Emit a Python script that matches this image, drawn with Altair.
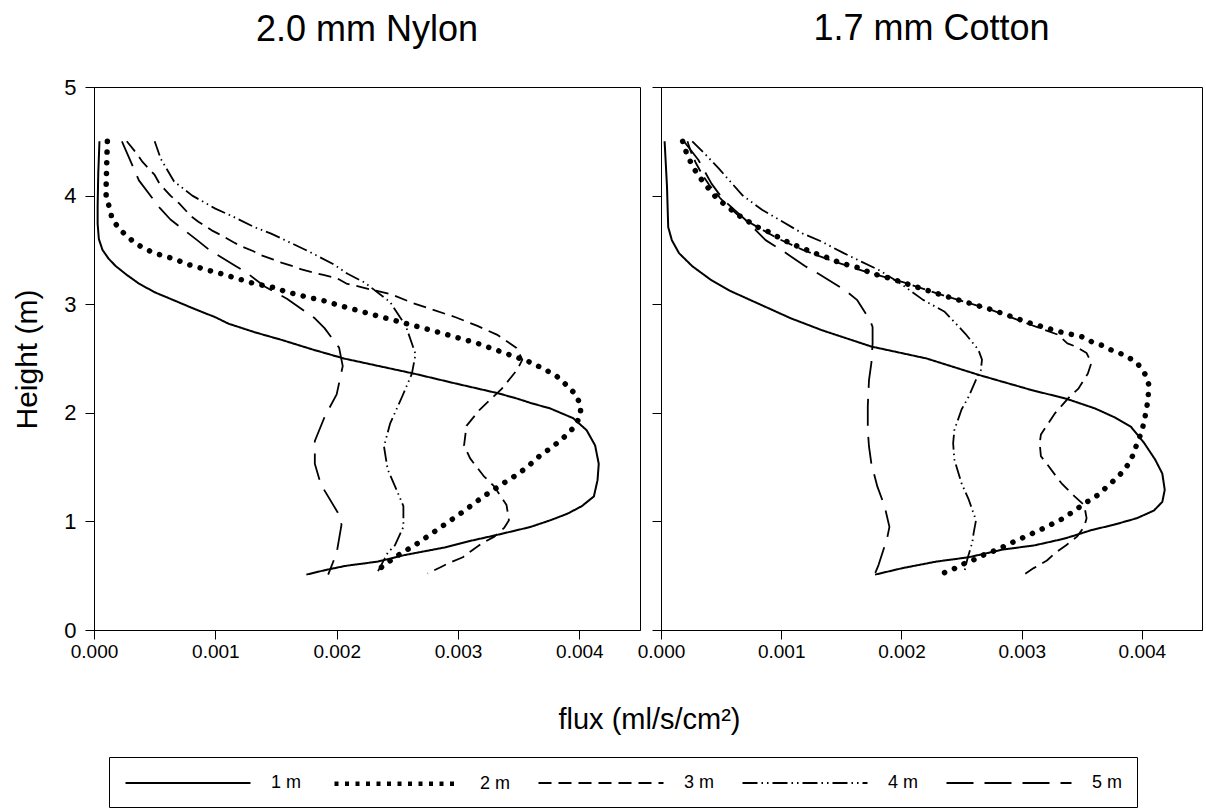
import altair as alt
import pandas as pd

SERIES = ["1 m", "2 m", "3 m", "4 m", "5 m"]
PANELS = ["2.0 mm Nylon", "1.7 mm Cotton"]
X_TICKS = [0.0, 0.001, 0.002, 0.003, 0.004]
Y_TICKS = [0, 1, 2, 3, 4, 5]

# ---------------- 2.0 mm Nylon ----------------
ny_1m_h = [4.50, 4.20, 3.90, 3.74, 3.60, 3.50, 3.42, 3.35, 3.27, 3.19, 3.11, 3.04, 2.96, 2.88, 2.82,
           2.74, 2.67, 2.58, 2.50, 2.43, 2.36, 2.27, 2.18, 2.13, 2.09, 2.04, 1.95, 1.84, 1.70, 1.53,
           1.38, 1.23, 1.14, 1.07, 1.01, 0.95, 0.92, 0.87, 0.82, 0.76, 0.69, 0.63, 0.59, 0.55, 0.51]
ny_1m_f = [0.000045, 0.000035, 0.00003, 0.00003, 0.00004, 0.00007, 0.00012, 0.00018, 0.00027, 0.00037,
           0.0005, 0.00065, 0.00082, 0.001, 0.00111, 0.00133, 0.00155, 0.00181, 0.00206, 0.00235,
           0.00264, 0.00298, 0.00333, 0.00349, 0.0036, 0.00376, 0.00395, 0.00406, 0.00413, 0.00416,
           0.00415, 0.00412, 0.00402, 0.0039, 0.00376, 0.0036, 0.00349, 0.0033, 0.0031, 0.00289,
           0.00256, 0.00234, 0.00207, 0.0019, 0.00175]

ny_2m_h = [4.50, 4.30, 4.09, 3.99, 3.88, 3.78, 3.68, 3.59, 3.52, 3.47, 3.44, 3.41, 3.37, 3.34, 3.31,
           3.28, 3.25, 3.22, 3.19, 3.17, 3.15, 3.11, 3.09, 3.06, 3.04, 3.01, 2.98, 2.87, 2.76, 2.64,
           2.50, 2.46, 2.40, 2.35, 2.27, 2.17, 2.07, 1.97, 1.86, 1.76, 1.68, 1.60, 1.51, 1.44, 1.37,
           1.23, 1.08, 0.94, 0.80, 0.67, 0.52]
ny_2m_f = [0.00011, 0.000105, 0.0001, 0.0001, 0.00013, 0.00015, 0.00022, 0.00031, 0.0004, 0.0005,
           0.00059, 0.00068, 0.00076, 0.00086, 0.00095, 0.00105, 0.00114, 0.00123, 0.00132, 0.00141,
           0.0015, 0.00159, 0.00168, 0.00177, 0.00187, 0.00196, 0.00205, 0.00241, 0.00278, 0.00316,
           0.00351, 0.00361, 0.00371, 0.0038, 0.00388, 0.00397, 0.00401, 0.00401, 0.00395, 0.00386,
           0.00377, 0.00367, 0.00358, 0.0035, 0.0034, 0.00321, 0.00303, 0.00285, 0.00267, 0.00248,
           0.0023]

ny_3m_h = [4.50, 4.39, 4.31, 4.19, 4.11, 4.00, 3.93, 3.81, 3.76, 3.68, 3.64, 3.57, 3.53, 3.49, 3.45,
           3.41, 3.38, 3.35, 3.32, 3.29, 3.27, 3.24, 3.19, 3.09, 3.01, 2.95, 2.88, 2.80, 2.72, 2.60,
           2.49, 2.40, 2.22, 2.03, 1.88, 1.70, 1.58, 1.42, 1.32, 1.15, 1.01, 0.94, 0.86, 0.80, 0.72,
           0.67, 0.62, 0.58, 0.52]
ny_3m_f = [0.00027, 0.00035, 0.0004, 0.0005, 0.00054, 0.00063, 0.0007, 0.0008, 0.00086, 0.00097,
           0.00104, 0.00115, 0.00122, 0.00131, 0.00138, 0.00148, 0.00155, 0.00164, 0.00171, 0.00181,
           0.00189, 0.002, 0.00208, 0.00245, 0.00263, 0.00279, 0.00298, 0.00316, 0.00332, 0.00348,
           0.00353, 0.00349, 0.00336, 0.00318, 0.00307, 0.00305, 0.0031, 0.00321, 0.0033, 0.0034,
           0.00342, 0.00338, 0.0033, 0.0032, 0.0031, 0.00304, 0.00293, 0.00286, 0.00275]

ny_4m_h = [4.50, 4.34, 4.13, 4.00, 3.88, 3.81, 3.71, 3.65, 3.55, 3.48, 3.37, 3.28, 3.20, 3.02, 2.80,
           2.54, 2.36, 2.15, 1.90, 1.69, 1.48, 1.30, 1.14, 0.95, 0.78, 0.71, 0.52]
ny_4m_f = [0.0005, 0.00055, 0.00066, 0.00081, 0.001, 0.00114, 0.00132, 0.00146, 0.00165, 0.00178,
           0.00197, 0.00209, 0.00223, 0.00244, 0.00257, 0.00265, 0.00262, 0.00254, 0.00244, 0.00239,
           0.00242, 0.00249, 0.00255, 0.00255, 0.00248, 0.00242, 0.00233]

ny_5m_h = [4.50, 4.27, 4.14, 3.89, 3.78, 3.59, 3.50, 3.35, 3.28, 3.16, 3.05, 2.87, 2.78, 2.60, 2.43,
           2.17, 1.96, 1.74, 1.53, 1.34, 1.08, 0.97, 0.71, 0.51]
ny_5m_f = [0.00023, 0.00032, 0.00037, 0.00054, 0.00063, 0.00085, 0.00095, 0.00117, 0.00127, 0.00141,
           0.00159, 0.00182, 0.0019, 0.00202, 0.00205, 0.002, 0.0019, 0.00182, 0.00182, 0.00187,
           0.00201, 0.00204, 0.002, 0.00193]

# ---------------- 1.7 mm Cotton ----------------
co_1m_h = [4.50, 4.08, 3.71, 3.59, 3.47, 3.35, 3.22, 3.12, 3.02, 2.87, 2.76, 2.61, 2.50, 2.35, 2.21,
           2.13, 2.04, 1.96, 1.87, 1.72, 1.57, 1.44, 1.29, 1.18, 1.10, 1.03, 0.97, 0.92, 0.87, 0.84,
           0.78, 0.74, 0.67, 0.63, 0.57, 0.51]
co_1m_f = [0.00003, 0.00005, 0.00006, 0.00009, 0.00015, 0.00026, 0.00042, 0.00058, 0.00078, 0.00108,
           0.00134, 0.00175, 0.00221, 0.00264, 0.00308, 0.00337, 0.00361, 0.00377, 0.00391, 0.00402,
           0.00411, 0.00417, 0.00419, 0.00417, 0.0041, 0.00396, 0.00377, 0.00358, 0.00344, 0.00335,
           0.00311, 0.00284, 0.00256, 0.00229, 0.00201, 0.00178]

co_2m_h = [4.50, 4.40, 4.30, 4.20, 4.10, 3.98, 3.90, 3.83, 3.76, 3.70, 3.66, 3.60, 3.55, 3.51, 3.47,
           3.43, 3.39, 3.36, 3.33, 3.29, 3.26, 3.23, 3.20, 3.07, 2.95, 2.83, 2.75, 2.70, 2.65, 2.62,
           2.57, 2.53, 2.46, 2.35, 2.25, 2.13, 2.04, 1.93, 1.83, 1.72, 1.62, 1.53, 1.42, 1.33, 1.24,
           1.17, 1.10, 1.03, 0.98, 0.93, 0.88, 0.83, 0.79, 0.74, 0.70, 0.65, 0.61, 0.56, 0.52]
co_2m_f = [0.00018, 0.00021, 0.00025, 0.0003, 0.00037, 0.00046, 0.00055, 0.00063, 0.00073, 0.00082,
           0.00091, 0.001, 0.0011, 0.00119, 0.00128, 0.00138, 0.00147, 0.00156, 0.00166, 0.00174,
           0.00183, 0.00193, 0.00201, 0.00238, 0.00275, 0.00306, 0.0033, 0.0035, 0.00359, 0.00367,
           0.00376, 0.00386, 0.00396, 0.00403, 0.00406, 0.00405, 0.00404, 0.00402, 0.004, 0.00396,
           0.00393, 0.00389, 0.00381, 0.00372, 0.00363, 0.00353, 0.00344, 0.00335, 0.00326, 0.00317,
           0.00307, 0.00297, 0.00289, 0.0028, 0.0027, 0.00261, 0.00252, 0.00243, 0.00234]

co_3m_h = [4.50, 4.40, 4.30, 4.20, 4.10, 3.98, 3.90, 3.80, 3.70, 3.60, 3.50, 3.40, 3.30, 3.20, 3.07,
           2.95, 2.82, 2.72, 2.64, 2.61, 2.55, 2.46, 2.36, 2.22, 2.15, 2.00, 1.90, 1.80, 1.72, 1.60,
           1.53, 1.38, 1.34, 1.23, 1.15, 1.03, 0.95, 0.86, 0.78, 0.71, 0.64, 0.57, 0.51]
co_3m_f = [0.00022, 0.00025, 0.00029, 0.00034, 0.0004, 0.00049, 0.00056, 0.00066, 0.00082, 0.00098,
           0.00118, 0.00142, 0.0017, 0.00202, 0.00238, 0.00274, 0.00305, 0.0033, 0.00338, 0.00345,
           0.00354, 0.00358, 0.00355, 0.00347, 0.0034, 0.00328, 0.00322, 0.00316, 0.00315, 0.00316,
           0.00321, 0.00331, 0.00334, 0.00344, 0.00352, 0.00354, 0.00352, 0.00346, 0.00337, 0.00328,
           0.00321, 0.0031, 0.00302]

co_4m_h = [4.50, 4.39, 4.25, 4.10, 4.00, 3.87, 3.78, 3.65, 3.58, 3.47, 3.39, 3.31, 3.20, 3.04, 2.93,
           2.73, 2.58, 2.49, 2.39, 2.33, 2.15, 2.03, 1.84, 1.72, 1.57, 1.35, 1.20, 1.01, 0.89, 0.81,
           0.66, 0.52]
co_4m_f = [0.00026, 0.00036, 0.00048, 0.0006, 0.00068, 0.00084, 0.00098, 0.00118, 0.00133, 0.00152,
           0.00167, 0.00182, 0.00198, 0.00218, 0.00236, 0.00253, 0.00264, 0.00267, 0.00266, 0.00263,
           0.00256, 0.0025, 0.00244, 0.00243, 0.00244, 0.0025, 0.00256, 0.00262, 0.0026, 0.00259,
           0.00255, 0.00252]

co_5m_h = [4.50, 4.33, 4.11, 3.96, 3.78, 3.59, 3.50, 3.35, 3.28, 3.13, 3.04, 2.85, 2.79, 2.64, 2.46,
           2.30, 2.06, 1.84, 1.69, 1.53, 1.32, 1.14, 0.95, 0.84, 0.60, 0.52]
co_5m_f = [0.00019, 0.00031, 0.00042, 0.00052, 0.0007, 0.00087, 0.001, 0.0012, 0.00131, 0.00153,
           0.00163, 0.00174, 0.00176, 0.00176, 0.00175, 0.00173, 0.00172, 0.00172, 0.00173, 0.00175,
           0.0018, 0.00186, 0.0019, 0.00188, 0.00181, 0.00178]

CURVES = {
    PANELS[0]: [(ny_1m_h, ny_1m_f), (ny_2m_h, ny_2m_f), (ny_3m_h, ny_3m_f), (ny_4m_h, ny_4m_f), (ny_5m_h, ny_5m_f)],
    PANELS[1]: [(co_1m_h, co_1m_f), (co_2m_h, co_2m_f), (co_3m_h, co_3m_f), (co_4m_h, co_4m_f), (co_5m_h, co_5m_f)],
}

rows = []
for panel_name, curves in CURVES.items():
    for s, (hs, fs) in zip(SERIES, curves):
        for i, (h, f) in enumerate(zip(hs, fs)):
            rows.append({"panel": panel_name, "series": s, "idx": i, "height": h, "flux": f})
df = pd.DataFrame(rows)

FONT = "Liberation Sans"
DOTTED = "2 m"
# legend symbols use butt caps, so the dotted entry is drawn as small square dots there
DASHES = [[1, 0], [4, 6.5], [13, 7], [15, 4, 1.5, 4, 1.5, 4], [27, 11]]
WIDTHS = [2, 4.5, 1.8, 1.8, 1.8]

legend = alt.Legend(
    title=None, orient="none", direction="horizontal", columns=5,
    legendX=15, legendY=670,
    symbolType="M-1,0H11.5", symbolSize=400,
    symbolStrokeColor="black", labelFont=FONT, labelFontSize=18, labelColor="black",
    labelOffset=123, columnPadding=23, strokeColor="black", padding=14,
)


def panel(name, first, width):
    data = df[df["panel"] == name]
    x_axis = alt.Axis(
        values=X_TICKS, format=".3f", grid=False, tickSize=9, labelFontSize=19,
        labelPadding=3, labelFlush=False,
        title="flux (ml/s/cm²)" if first else None,
        titleFontSize=29, titleFontWeight="normal", titleX=555, titleY=98,
        titleBaseline="alphabetic", titleAlign="center",
    )
    y_axis = alt.Axis(
        values=Y_TICKS, grid=False, tickSize=9, labels=first, labelFontSize=22,
        labelPadding=9, labelFlush=False, title="Height (m)" if first else None,
        titleFontSize=30, titleFontWeight="normal", titleX=-58, titleY=272,
        titleBaseline="alphabetic", titleAlign="center",
    )
    x_enc = alt.X("flux:Q", scale=alt.Scale(domain=[0, 0.0045], nice=False), axis=x_axis)
    y_enc = alt.Y("height:Q", scale=alt.Scale(domain=[0, 5], nice=False), axis=y_axis)

    # all series except the dotted one: they also drive the (shared) legend
    main = alt.Chart(data[data["series"] != DOTTED]).mark_line(
        color="black", strokeCap="butt", strokeJoin="round"
    ).encode(
        x=x_enc, y=y_enc,
        strokeDash=alt.StrokeDash("series:N", scale=alt.Scale(domain=SERIES, range=DASHES), legend=legend),
        strokeWidth=alt.StrokeWidth("series:N", scale=alt.Scale(type="ordinal", domain=SERIES, range=WIDTHS), legend=legend),
        detail="series:N",
        order="idx:Q",
    )
    # dotted series drawn with round dots
    dotted = alt.Chart(data[data["series"] == DOTTED]).mark_line(
        color="black", strokeCap="round", strokeJoin="round", strokeDash=[0.1, 10.6], strokeWidth=5.5
    ).encode(x=x_enc, y=y_enc, order="idx:Q")

    return alt.layer(main, dotted).properties(
        width=width, height=543,
        title=alt.TitleParams(name, fontSize=36, fontWeight="normal", font=FONT, color="black",
                              offset=27 if first else 39),
    )


chart = alt.hconcat(panel(PANELS[0], True, 546), panel(PANELS[1], False, 541), spacing=21, bounds="flush").properties(
    padding={"left": 11, "top": 10, "right": 0, "bottom": 0},
    background="white",
).configure_view(stroke="black", strokeWidth=1).configure_axis(
    domainColor="black", tickColor="black", labelColor="black", titleColor="black",
    labelFont=FONT, titleFont=FONT,
)

chart.save("out.html", embed_options={"renderer": "svg", "actions": False})
